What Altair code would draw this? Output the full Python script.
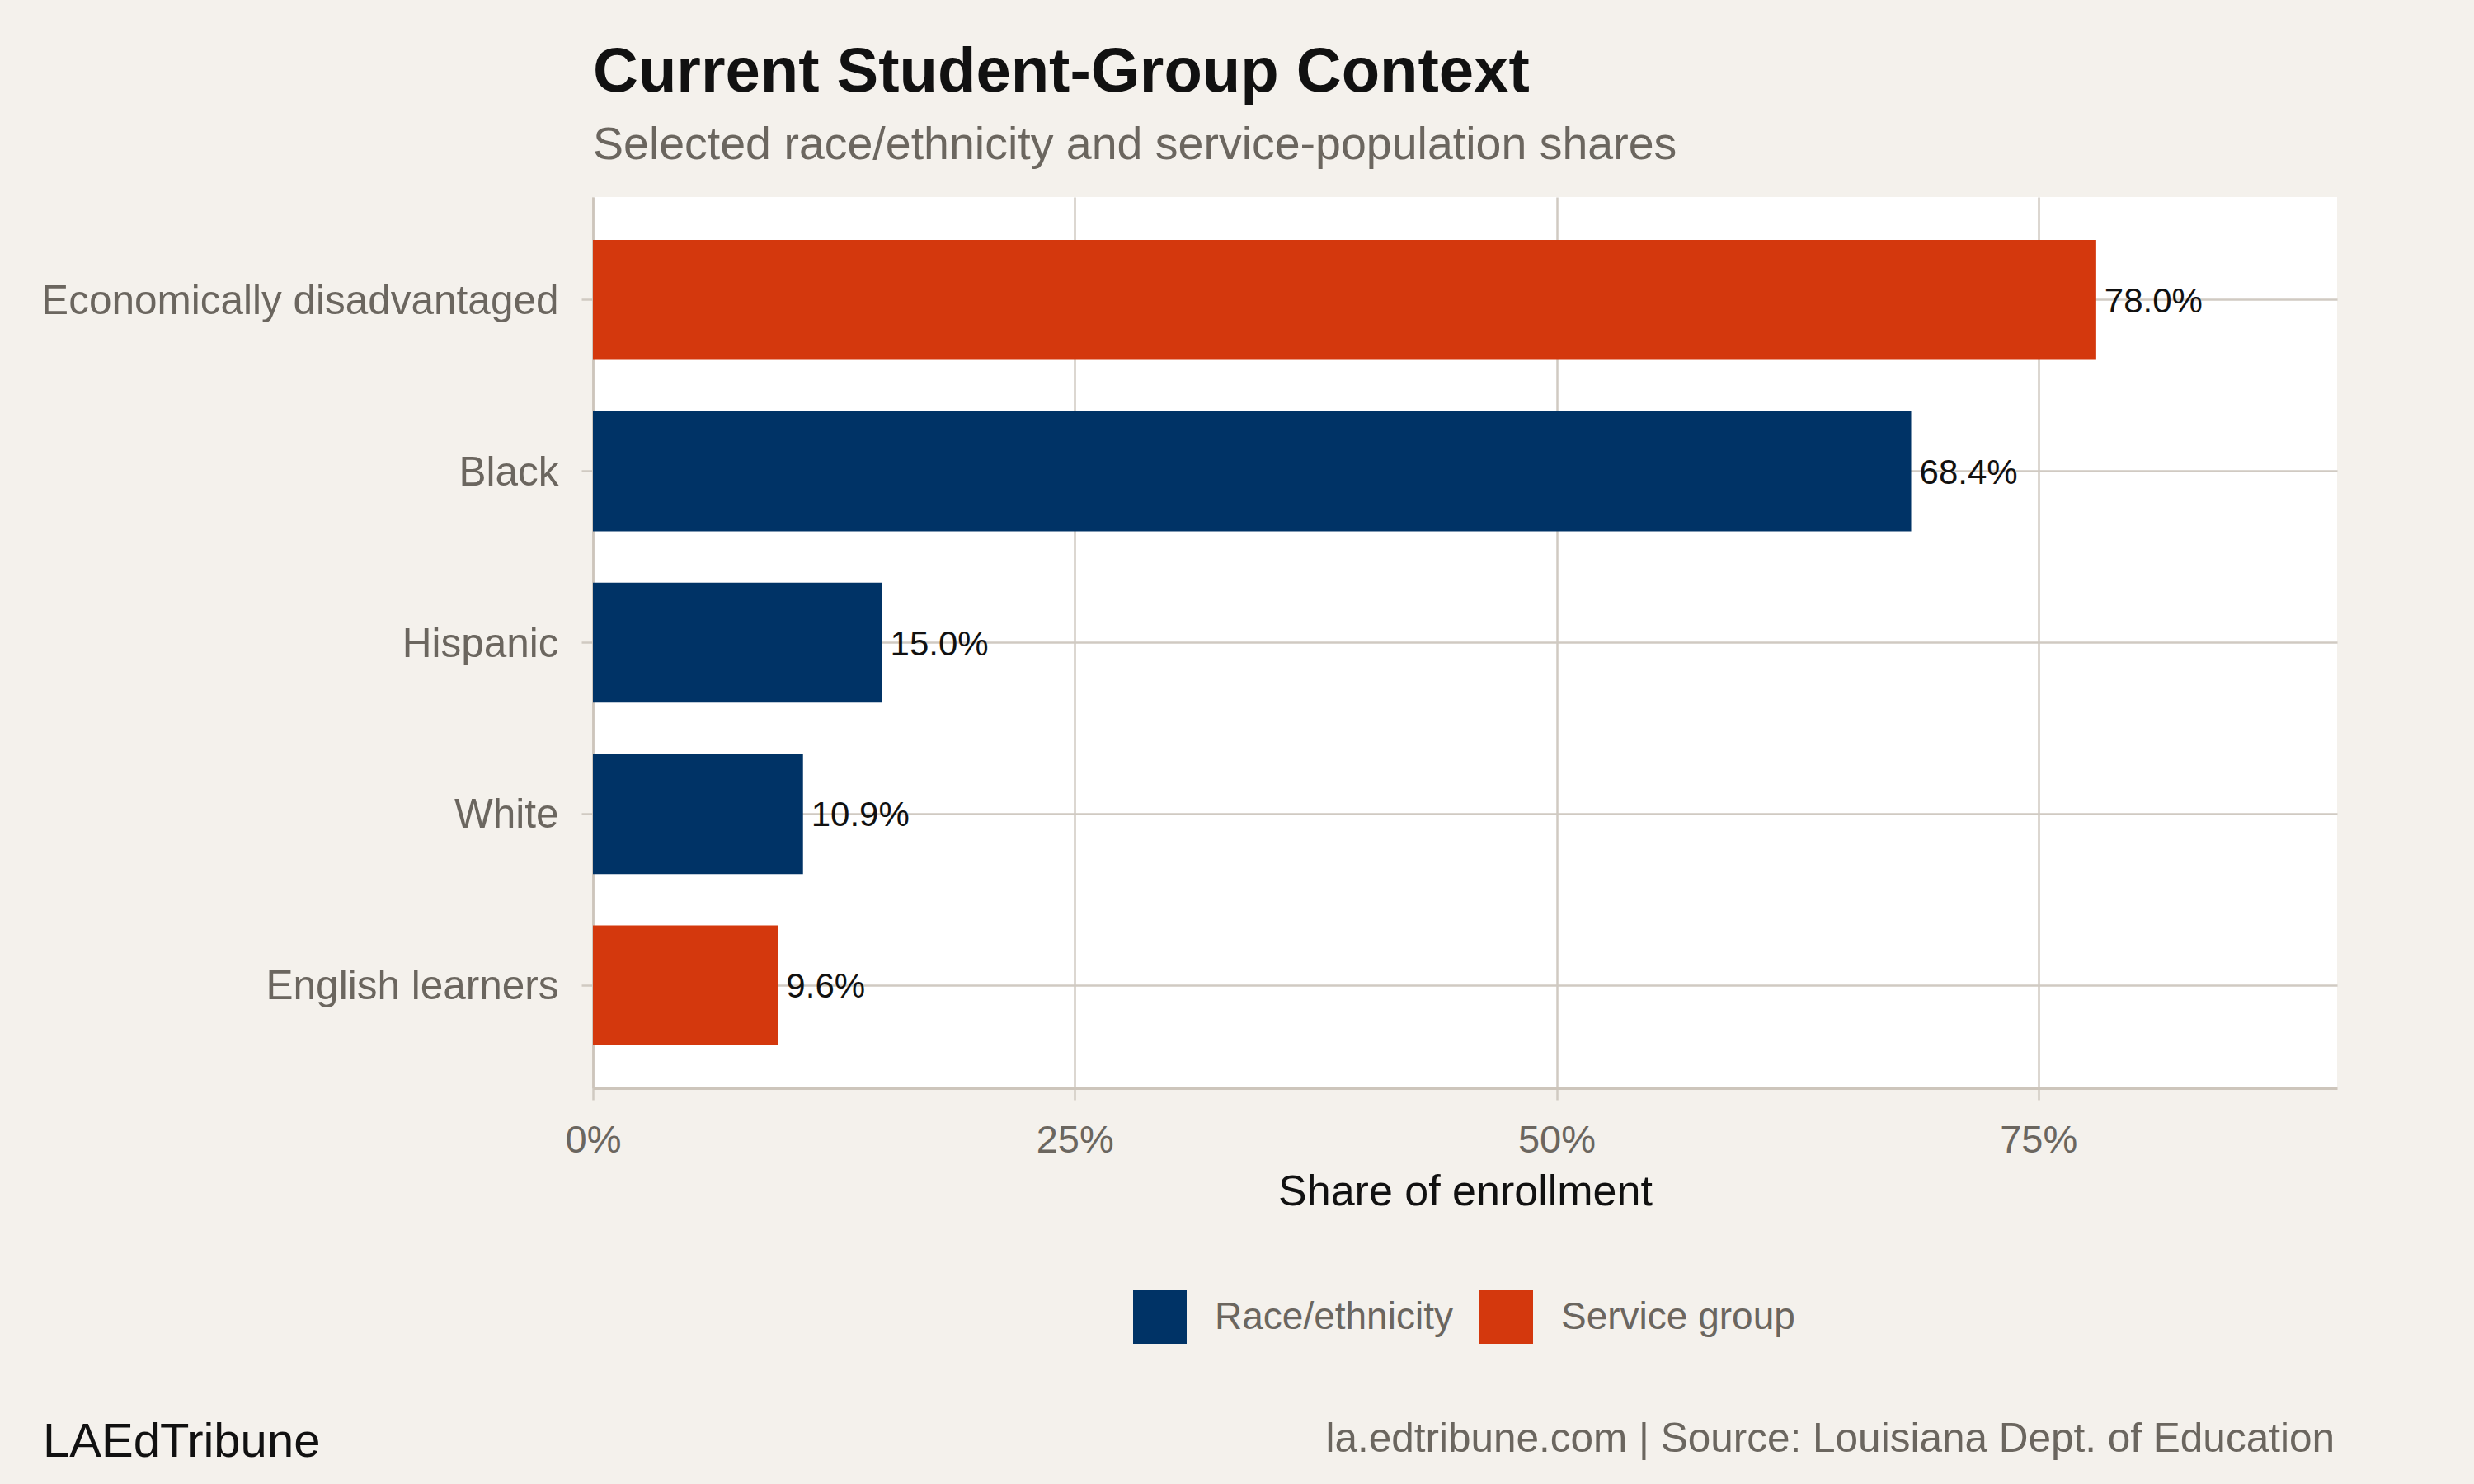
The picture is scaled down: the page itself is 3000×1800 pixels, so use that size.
import altair as alt
import pandas as pd

# Enrollment shares (percent) by student group
groups = ["Economically disadvantaged", "Black", "Hispanic", "White", "English learners"]
shares = [78.0, 68.4, 15.0, 10.9, 9.6]
kinds = ["Service group", "Race/ethnicity", "Race/ethnicity", "Race/ethnicity", "Service group"]

kind_order = ["Race/ethnicity", "Service group"]
kind_colors = ["#003366", "#d4380d"]
x_ticks = [0, 25, 50, 75]

brand = "LAEdTribune"
credit = "la.edtribune.com | Source: Louisiana Dept. of Education"

FONT = "Liberation Sans"
GRAY = "#6b665f"
LINE = "#d0cac2"

df = pd.DataFrame({"group": groups, "share": shares, "kind": kinds})
df["label"] = [f"{v:.1f}%" for v in shares]

y_enc = alt.Y(
    "group:N",
    sort=groups,
    title=None,
    scale=alt.Scale(paddingInner=0.3, paddingOuter=0.25),
    axis=alt.Axis(
        grid=True, gridColor=LINE, gridWidth=2.5,
        domain=True, domainColor="#cdc5bb", domainWidth=2.5,
        ticks=True, tickColor=LINE, tickSize=14, tickWidth=2.5,
        labelFontSize=49.5, labelColor=GRAY, labelFont=FONT, labelPadding=28,
        labelLimit=900, labelOffset=2,
    ),
)

x_enc = alt.X(
    "share:Q",
    title="Share of enrollment",
    scale=alt.Scale(domain=[0, 90.5], nice=False, zero=True),
    axis=alt.Axis(
        values=x_ticks, labelExpr="datum.value + '%'", labelFlush=False,
        grid=True, gridColor=LINE, gridWidth=2.5,
        domain=True, domainColor="#cdc5bb", domainWidth=3,
        ticks=True, tickColor=LINE, tickSize=14, tickWidth=2.5,
        labelFontSize=47, labelColor=GRAY, labelFont=FONT, labelPadding=26,
        titleFontSize=52, titleColor="#111111", titleFont=FONT,
        titleFontWeight="normal", titlePadding=14,
    ),
)

bars = alt.Chart(df).mark_bar().encode(
    x=x_enc,
    y=y_enc,
    color=alt.Color(
        "kind:N",
        scale=alt.Scale(domain=kind_order, range=kind_colors),
        legend=alt.Legend(
            title=None, orient="none", legendX=655, legendY=1326,
            direction="horizontal", symbolType="square", symbolSize=4225,
            symbolStrokeWidth=0, symbolOpacity=1,
            labelFontSize=46, labelColor=GRAY, labelFont=FONT, labelLimit=800,
            labelOffset=34, columnPadding=32, padding=0,
        ),
    ),
)

values = alt.Chart(df).mark_text(
    align="left", baseline="middle", dx=10, dy=2, fontSize=42, font=FONT, color="#111111"
).encode(x="share:Q", y=alt.Y("group:N", sort=groups), text="label:N")

foot_left = alt.Chart(pd.DataFrame({"t": [brand]})).mark_text(
    align="left", baseline="alphabetic", fontSize=58, font=FONT, color="#111111"
).encode(x=alt.value(-667), y=alt.value(1528), text="t:N")

foot_right = alt.Chart(pd.DataFrame({"t": [credit]})).mark_text(
    align="right", baseline="alphabetic", fontSize=49.5, font=FONT, color=GRAY
).encode(x=alt.value(2112), y=alt.value(1522), text="t:N")

chart = (
    alt.layer(bars, values, foot_left, foot_right)
    .properties(
        width=2115,
        height=1081,
        autosize=alt.AutoSizeParams(type="none"),
        padding={"left": 719, "top": 239, "right": 166, "bottom": 480},
        title=alt.TitleParams(
            text="Current Student-Group Context",
            subtitle="Selected race/ethnicity and service-population shares",
            anchor="start", frame="group", orient="top",
            font=FONT, fontSize=76, fontWeight="bold", color="#111111",
            subtitleFont=FONT, subtitleFontSize=55.5, subtitleColor=GRAY,
            subtitlePadding=22, offset=34,
        ),
    )
    .configure(background="#f4f1ec")
    .configure_view(fill="white", stroke=None)
)

chart.save("out.html", embed_options={"renderer": "svg", "actions": False})
